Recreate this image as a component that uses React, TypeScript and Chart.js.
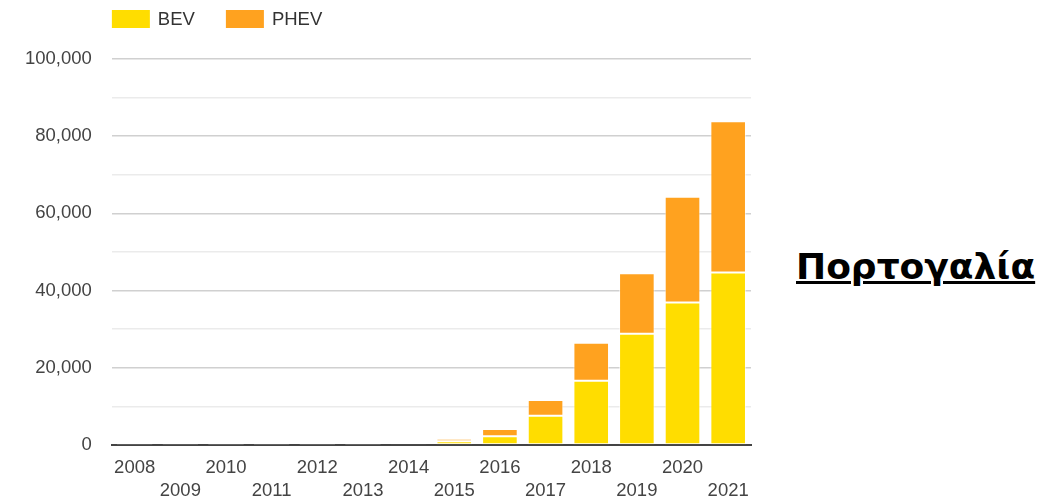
import React, { useEffect, useRef } from "react";
import { Chart, registerables } from "chart.js";

Chart.register(...registerables);

const years = ["2008", "2009", "2010", "2011", "2012", "2013", "2014", "2015", "2016", "2017", "2018", "2019", "2020", "2021"];
const bevValues = [0, 0, 50, 150, 150, 150, 200, 950, 2300, 7600, 16650, 28800, 36900, 44700];
const phevValues = [80, 80, 100, 250, 300, 350, 400, 700, 1850, 4050, 9850, 15700, 27400, 39200];
const seriesLabels = ["BEV", "PHEV"];
const seriesColors = ["#FFDD00", "#FFA21F"];
const titleText = "Πορτογαλία";

const FONT = '"Liberation Sans", Arial, sans-serif';

const legendPlugin = {
  id: "customLegend",
  afterDraw(chart: any) {
    const { ctx, chartArea } = chart;
    ctx.save();
    ctx.font = `18.5px ${FONT}`;
    ctx.textBaseline = "middle";
    ctx.textAlign = "left";
    let x = chartArea.left;
    chart.data.datasets.forEach((ds: any) => {
      ctx.fillStyle = ds.backgroundColor;
      ctx.fillRect(x, 0, 38, 18);
      ctx.fillStyle = "#333";
      ctx.fillText(ds.label, x + 46, 9.5);
      x += 46 + ctx.measureText(ds.label).width + 31;
    });
    ctx.restore();
  },
};

export default function App() {
  const canvasRef = useRef<HTMLCanvasElement | null>(null);

  useEffect(() => {
    if (!canvasRef.current) return;
    const chart = new Chart(canvasRef.current, {
      type: "bar",
      data: {
        labels: years,
        datasets: [
          {
            label: seriesLabels[0],
            data: bevValues,
            backgroundColor: seriesColors[0],
            borderColor: "rgba(255,255,255,0.55)",
            borderWidth: 1,
            borderSkipped: false,
          },
          {
            label: seriesLabels[1],
            data: phevValues,
            backgroundColor: seriesColors[1],
            borderColor: "rgba(255,255,255,0.55)",
            borderWidth: 1,
            borderSkipped: false,
          },
        ],
      },
      options: {
        animation: false,
        responsive: false,
        maintainAspectRatio: false,
        layout: { padding: { left: 5, right: 19, top: 49, bottom: 0 } },
        plugins: {
          legend: { display: false },
          tooltip: { enabled: false },
          title: { display: false },
        },
        datasets: {
          bar: { categoryPercentage: 1, barPercentage: 0.78 },
        },
        scales: {
          x: {
            stacked: true,
            grid: { display: false, drawTicks: false },
            border: { display: true, color: "#444", width: 2 },
            ticks: {
              autoSkip: false,
              maxRotation: 0,
              minRotation: 0,
              padding: 11,
              color: "#444",
              font: { family: FONT, size: 18.5, lineHeight: 1.27 },
              callback: (_v: any, i: number) => (i % 2 === 0 ? years[i] : ["", years[i]]),
            },
          },
          y: {
            stacked: true,
            min: 0,
            max: 100000,
            border: { display: false },
            grid: {
              drawTicks: false,
              color: (c: any) =>
                c.tick && c.tick.value === 0 ? "rgba(0,0,0,0)" : c.tick && c.tick.value % 20000 === 0 ? "#d0d0d0" : "#ebebeb",
              lineWidth: 1.5,
            },
            ticks: {
              stepSize: 10000,
              padding: 20,
              color: "#444",
              font: { family: FONT, size: 18.5 },
              callback: (v: any) => (Number(v) % 20000 === 0 ? Number(v).toLocaleString("en-US") : ""),
            },
          },
        },
      },
      plugins: [legendPlugin],
    });
    return () => chart.destroy();
  }, []);

  return (
    <div style={{ position: "absolute", left: 0, top: 0, width: 1045, height: 504, background: "#fff", overflow: "hidden" }}>
      <canvas ref={canvasRef} width={770} height={504} style={{ position: "absolute", left: 0, top: 10, width: 770, height: 504 }} />
      <div
        style={{
          position: "absolute",
          left: 796,
          top: 247,
          fontFamily: '"DejaVu Sans", Verdana, sans-serif',
          fontWeight: "bold",
          fontSize: 36,
          lineHeight: "40px",
          color: "#000",
          textDecoration: "underline",
          textDecorationThickness: "3px",
          whiteSpace: "nowrap",
        }}
      >
        {titleText}
      </div>
    </div>
  );
}
